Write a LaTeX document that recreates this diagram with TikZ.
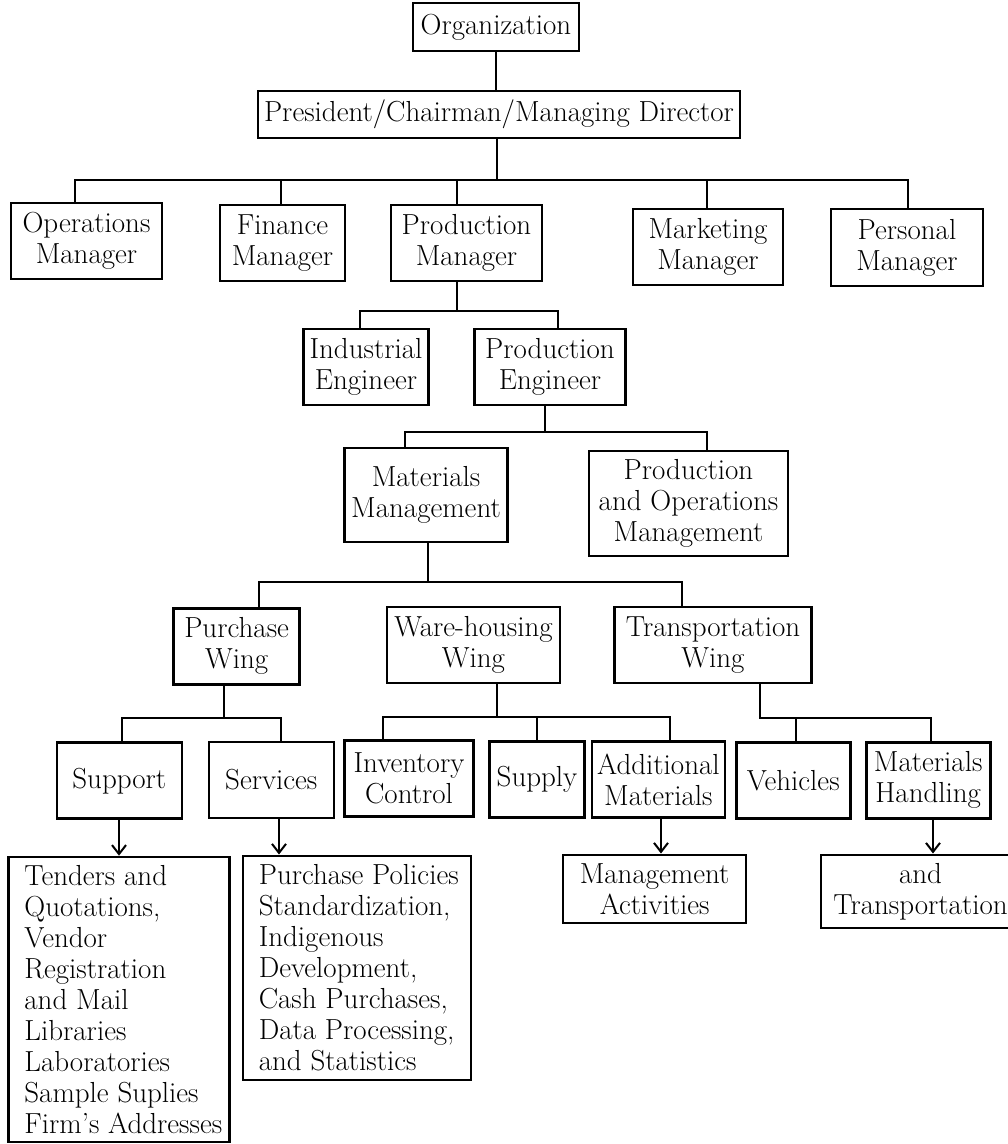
\documentclass[tikz,border=0pt]{standalone}
\usetikzlibrary{arrows.meta}
\newcommand\chartfont{\fontsize{29}{31}\selectfont}
\begin{document}
\begin{tikzpicture}[x=1pt,y=-1pt,
  box/.style={draw, line width=2.6pt, inner sep=0pt, align=center, font=\chartfont},
  txt/.style={inner sep=0pt, align=left, font=\chartfont},
  conn/.style={line width=2pt},
  arr/.style={line width=2pt, -{Straight Barb[length=9pt,width=14pt,line width=2pt]}}]
\useasboundingbox (0,0) rectangle (1008,1144);
\clip (0,0) rectangle (1008,1144);

% top levels
\node[box, minimum width=166pt, minimum height=48pt] (org) at (496,27) {Organization};
\node[box, minimum width=482pt, minimum height=47pt] (pres) at (499,114.5) {President/Chairman/Managing Director};

% managers
\node[box, minimum width=151pt, minimum height=76pt] (ops)  at (86.5,241)  {Operations\\Manager};
\node[box, minimum width=125pt, minimum height=76pt] (fin)  at (282.5,243) {Finance\\Manager};
\node[box, minimum width=151pt, minimum height=76pt] (prodm) at (466.5,243) {Production\\Manager};
\node[box, minimum width=150pt, minimum height=76pt] (mkt)  at (708,247)   {Marketing\\Manager};
\node[box, minimum width=152pt, minimum height=77pt] (pers) at (907,247.5) {Personal\\Manager};

% engineers
\node[box, minimum width=125pt, minimum height=76pt] (ind)  at (366,367) {Industrial\\Engineer};
\node[box, minimum width=151pt, minimum height=76pt] (peng) at (550,367) {Production\\Engineer};

% management areas
\node[box, minimum width=163pt, minimum height=94pt]  (mm)  at (426,495)   {Materials\\Management};
\node[box, minimum width=199pt, minimum height=105pt] (pom) at (688.5,503.3) {Production\\and Operations\\Management};

% wings
\node[box, minimum width=126pt, minimum height=76pt] (purch) at (236.6,646.3) {Purchase\\Wing};
\node[box, minimum width=173pt, minimum height=76pt] (ware)  at (473.5,645)   {Ware-housing\\Wing};
\node[box, minimum width=197pt, minimum height=76pt] (trans) at (713,645)     {Transportation\\Wing};

% functions
\node[box, minimum width=125pt, minimum height=76pt] (sup)    at (119.3,780.7) {Support};
\node[box, minimum width=125pt, minimum height=76pt] (serv)   at (271.3,780)   {Services};
\node[box, minimum width=129pt, minimum height=76pt] (inv)    at (409,778.5)   {Inventory\\Control};
\node[box, minimum width=95pt,  minimum height=76pt] (supply) at (537,779.7)   {Supply};
\node[box, minimum width=133pt, minimum height=76pt] (add)    at (658.4,779.7) {Additional\\Materials};
\node[box, minimum width=114pt, minimum height=76pt] (veh)    at (793.2,780.3) {Vehicles};
\node[box, minimum width=124pt, minimum height=76pt] (mh)     at (928.2,780.3) {Materials\\Handling};

% activity lists
\node[box, minimum width=221pt, minimum height=285pt] (tend) at (119,999.5) {};
\node[txt, anchor=west, xshift=17pt] (tendtxt) at (tend.west)
  {Tenders and\\Quotations,\\Vendor\\Registration\\and Mail\\Libraries\\Laboratories\\Sample Suplies\\Firm's Addresses};
\node[box, minimum width=228pt, minimum height=224pt] (pp) at (356.9,967.8) {};
\node[txt, anchor=west, xshift=17pt] (pptxt) at (pp.west)
  {Purchase Policies\\Standardization,\\Indigenous\\Development,\\Cash Purchases,\\Data Processing,\\and Statistics};
\node[box, minimum width=183pt, minimum height=68pt] (ma) at (654.6,888.8) {Management\\Activities};
\node[box, minimum width=210pt, minimum height=73pt, text width=199pt] (andtr) at (926,891.3) {};
\node[inner sep=0pt, align=center, font=\chartfont] (andtrtxt) at (920.5,891.3) {and\\Transportation};

% junction points
\coordinate (j0)  at (497,179.5);
\coordinate (b1a) at (75,179.5);
\coordinate (b1b) at (281,179.5);
\coordinate (b1c) at (457,179.5);
\coordinate (b1d) at (707,179.5);
\coordinate (b1e) at (908,179.5);

\coordinate (j2)  at (456.5,310.7);
\coordinate (b2a) at (359.5,310.7);
\coordinate (b2b) at (557.5,310.7);

\coordinate (j3)  at (545,432.3);
\coordinate (b3a) at (405,432.3);
\coordinate (b3b) at (707,432.3);

\coordinate (j4)  at (427.6,581.7);
\coordinate (b4a) at (258.5,581.7);
\coordinate (b4b) at (682,581.7);

\coordinate (j5)  at (223.8,718.3);
\coordinate (b5a) at (122,718.3);
\coordinate (b5b) at (281,718.3);

\coordinate (j6)  at (497,717.3);
\coordinate (b6a) at (383,717.3);
\coordinate (b6b) at (537,717.3);
\coordinate (b6c) at (670,717.3);

\coordinate (b7a) at (760,718.3);
\coordinate (b7b) at (796,718.3);
\coordinate (b7c) at (930.5,718.3);

\coordinate (a1) at (119,0);
\coordinate (a2) at (279,0);
\coordinate (a3) at (661,0);
\coordinate (a4) at (933,0);

% connectors
\draw[conn] (org.south) -- (org.south |- pres.north);

\draw[conn] (pres.south -| j0) -- (j0);
\draw[conn] (ops.north -| b1a) -- (b1a) -- (b1e) -- (pers.north -| b1e);
\draw[conn] (b1b) -- (fin.north -| b1b);
\draw[conn] (b1c) -- (prodm.north -| b1c);
\draw[conn] (b1d) -- (mkt.north -| b1d);

\draw[conn] (prodm.south -| j2) -- (j2);
\draw[conn] (ind.north -| b2a) -- (b2a) -- (b2b) -- (peng.north -| b2b);

\draw[conn] (peng.south -| j3) -- (j3);
\draw[conn] (mm.north -| b3a) -- (b3a) -- (b3b) -- (pom.north -| b3b);

\draw[conn] (mm.south -| j4) -- (j4);
\draw[conn] (purch.north -| b4a) -- (b4a) -- (b4b) -- (trans.north -| b4b);

\draw[conn] (purch.south -| j5) -- (j5);
\draw[conn] (sup.north -| b5a) -- (b5a) -- (b5b) -- (serv.north -| b5b);

\draw[conn] (ware.south -| j6) -- (j6);
\draw[conn] (inv.north -| b6a) -- (b6a) -- (b6c) -- (add.north -| b6c);
\draw[conn] (b6b) -- (supply.north -| b6b);

\draw[conn] (trans.south -| b7a) -- (b7a) -- (b7c) -- (mh.north -| b7c);
\draw[conn] (b7b) -- (veh.north -| b7b);

\draw[arr] (sup.south -| a1) -- (tend.north -| a1);
\draw[arr] (serv.south -| a2) -- (pp.north -| a2);
\draw[arr] (add.south -| a3) -- (ma.north -| a3);
\draw[arr] (mh.south -| a4) -- (andtr.north -| a4);
\end{tikzpicture}
\end{document}
